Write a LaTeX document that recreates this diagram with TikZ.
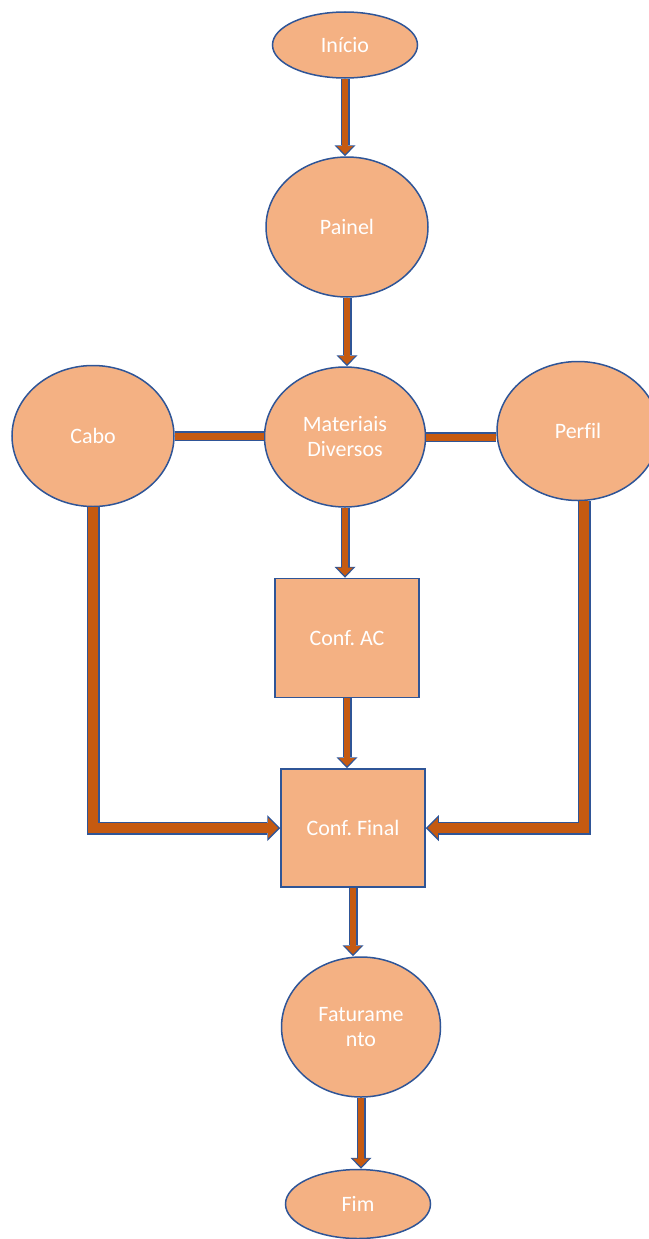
\documentclass[tikz,border=0pt]{standalone}
\usepackage{fontspec}
\setmainfont{Carlito}[Ligatures=NoCommon]
\usetikzlibrary{arrows.meta,positioning,shapes.geometric}
\definecolor{boxfill}{HTML}{F4B183}
\definecolor{boxline}{HTML}{2F5597}
\definecolor{linkfill}{HTML}{C55A11}
\tikzset{base node/.style={fill=boxfill,draw=boxline,line width=1.5pt,text=white,font=\fontsize{22}{25}\selectfont\frenchspacing,align=center,inner sep=0pt},
  oval node/.style 2 args={base node,ellipse,minimum width=#1,minimum height=#2},
  box node/.style 2 args={base node,rectangle,minimum width=#1,minimum height=#2},
  flow/.style={draw=boxline,line width=9pt,-{Triangle[length=11pt,width=21pt,line width=0pt]},
    postaction={draw=linkfill,line width=6pt,-{Triangle[length=8pt,width=16pt,line width=0pt]},shorten >=2.2pt}},
  wide flow/.style={draw=boxline,line width=13pt,line join=miter,-{Triangle[length=13pt,width=26pt,line width=0pt]},
    postaction={draw=linkfill,line width=10pt,line join=miter,-{Triangle[length=10pt,width=20pt,line width=0pt]},shorten >=2.2pt}},
  link/.style={draw=boxline,line width=10pt,postaction={draw=linkfill,line width=7pt}}}

\begin{document}
\begin{tikzpicture}[x=1pt,y=-1pt]
  \useasboundingbox (0,0) rectangle (648,1239);
  \node[oval node={145pt}{66pt}] (inicio) at (345,45) {Início};
  \node[oval node={162pt}{140pt}] (painel) at (347,227) {Painel};
  \node[oval node={161pt}{140pt}] (materiais) at (345,437) {Materiais\\Diversos};
  \node[oval node={162pt}{141pt}] (cabo) at (93,436) {Cabo};
  \node[oval node={162pt}{139pt}] (perfil) at (578,431) {Perfil};
  \node[box node={144pt}{119pt}] (confac) at (347,638) {Conf. AC};
  \node[box node={144pt}{118pt}] (conffinal) at (353,828) {Conf. Final};
  \node[oval node={159pt}{140pt}] (fatura) at (361,1027) {Faturame\\nto};
  \node[oval node={145pt}{69pt}] (fim) at (358,1204) {Fim};

  % ligacoes
  \draw[flow] (inicio.south) -- (inicio.south |- painel.north);
  \draw[flow] (painel.south) -- (painel.south |- materiais.north);
  \draw[flow] (materiais.south) -- (materiais.south |- confac.north);
  \draw[flow] (confac.south) -- (confac.south |- conffinal.north);
  \draw[flow] (conffinal.south) -- (conffinal.south |- fatura.north);
  \draw[flow] (fatura.south) -- (fatura.south |- fim.north);
  \draw[link] (cabo.east) -- (cabo.east -| materiais.west);
  \draw[link] (materiais.east) -- (materiais.east -| perfil.west);
  \draw[wide flow] (cabo.south) |- (conffinal.west);
  \draw[wide flow] ([xshift=6pt]perfil.south) |- (conffinal.east);
\end{tikzpicture}
\end{document}
